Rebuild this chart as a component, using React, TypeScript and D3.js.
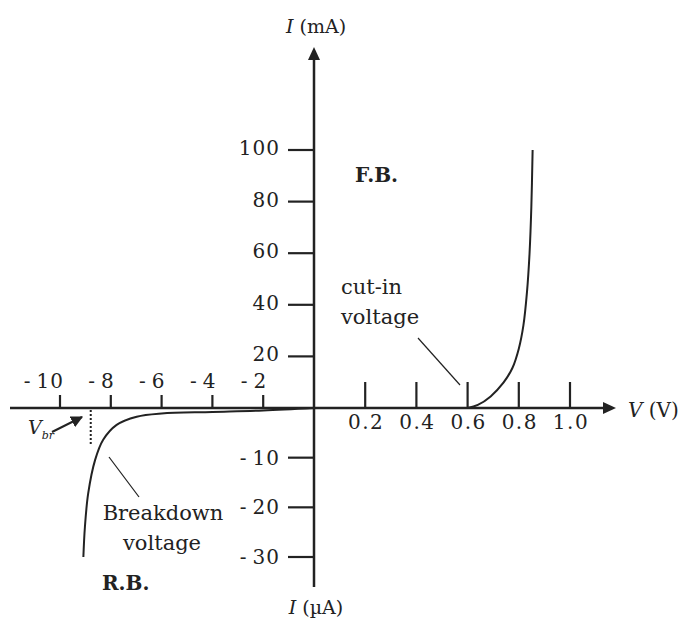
import React from "react";
import * as d3 from "d3";

// Forward bias (V in volts, I in mA)
const fwdV = [0.6, 0.64, 0.69, 0.74, 0.775, 0.8, 0.818, 0.832, 0.842, 0.849, 0.854];
const fwdI = [0, 1.2, 4.5, 9.8, 15.5, 23, 32, 45, 60, 78, 100];
// Reverse bias (V in volts, I in µA)
const revV = [-9.08, -9.02, -8.89, -8.62, -8.3, -7.77, -6.98, -6.0, -4.0, -2.0, 0];
const revI = [-30, -24, -17.2, -10.5, -6.4, -3.4, -1.75, -1.1, -0.8, -0.5, 0];

const posVTicks = [0.2, 0.4, 0.6, 0.8, 1.0];
const negVTicks = [-10, -8, -6, -4, -2];
const posITicks = [20, 40, 60, 80, 100];
const negITicks = [-10, -20, -30];
const breakdownV = -8.79;

const X0 = 314;
const Y0 = 408;
const INK = "#222";
const FONT = "'DejaVu Serif', 'Liberation Serif', serif";

export default function App() {
  const xPos = d3.scaleLinear().domain([0, 1]).range([X0, X0 + 256]);
  const xNeg = d3.scaleLinear().domain([0, -10]).range([X0, X0 - 254]);
  const yPos = d3.scaleLinear().domain([0, 100]).range([Y0, Y0 - 258]);
  const yNeg = d3.scaleLinear().domain([0, -30]).range([Y0, Y0 + 149]);

  const fwdLine = d3
    .line<number>()
    .x((_, i) => xPos(fwdV[i]))
    .y((d) => yPos(d))
    .curve(d3.curveCatmullRom.alpha(0.5));
  const revLine = d3
    .line<number>()
    .x((_, i) => xNeg(revV[i]))
    .y((d) => yNeg(d))
    .curve(d3.curveCatmullRom.alpha(0.5));

  const fmtNeg = (v: number) => "-\u2009" + Math.abs(v);

  return (
    <svg width={687} height={619} style={{ position: "absolute", left: 0, top: 0, background: "#fff" }} fontFamily={FONT}>
      <defs>
        <marker id="ah2" viewBox="0 0 10 10" refX="9" refY="5" markerWidth="12" markerHeight="12" orient="auto" markerUnits="userSpaceOnUse">
          <path d="M0,0 L10,5 L0,10 z" fill={INK} />
        </marker>
      </defs>
      <rect width={687} height={619} fill="#fff" />

      {/* axes */}
      <line x1={10} y1={Y0} x2={603} y2={Y0} stroke={INK} strokeWidth={2.5} />
      <path d={`M603,${Y0 - 6} L616,${Y0} L603,${Y0 + 6} z`} fill={INK} />
      <line x1={X0} y1={587} x2={X0} y2={60} stroke={INK} strokeWidth={2.5} />
      <path d={`M${X0 - 6},60 L${X0},47 L${X0 + 6},60 z`} fill={INK} />

      {/* positive V ticks */}
      {posVTicks.map((v) => (
        <g key={"pv" + v}>
          <line x1={xPos(v)} x2={xPos(v)} y1={Y0} y2={Y0 - 26} stroke={INK} strokeWidth={2.2} />
          <text x={xPos(v) + 1} y={Y0 + 14} dy="0.35em" textAnchor="middle" fontSize={20} fill={INK} letterSpacing={1.5}>
            {v.toFixed(1)}
          </text>
        </g>
      ))}
      {/* negative V ticks */}
      {negVTicks.map((v) => (
        <g key={"nv" + v}>
          <line x1={xNeg(v)} x2={xNeg(v)} y1={Y0} y2={Y0 - 13} stroke={INK} strokeWidth={2.2} />
          <text x={xNeg(v) + 4} y={Y0 - 27} dy="0.35em" textAnchor="end" fontSize={20} fill={INK} letterSpacing={1}>
            {fmtNeg(v)}
          </text>
        </g>
      ))}
      {/* positive I ticks */}
      {posITicks.map((v) => (
        <g key={"pi" + v}>
          <line x1={X0 - 26} x2={X0} y1={yPos(v)} y2={yPos(v)} stroke={INK} strokeWidth={2.2} />
          <text x={X0 - 34} y={yPos(v) - 2} dy="0.35em" textAnchor="end" fontSize={20} fill={INK} letterSpacing={1}>
            {v}
          </text>
        </g>
      ))}
      {/* negative I ticks */}
      {negITicks.map((v) => (
        <g key={"ni" + v}>
          <line x1={X0 - 26} x2={X0} y1={yNeg(v)} y2={yNeg(v)} stroke={INK} strokeWidth={2.2} />
          <text x={X0 - 34} y={yNeg(v)} dy="0.35em" textAnchor="end" fontSize={20} fill={INK} letterSpacing={1}>
            {fmtNeg(v)}
          </text>
        </g>
      ))}

      {/* curves */}
      <path d={fwdLine(fwdI) || ""} fill="none" stroke={INK} strokeWidth={2} />
      <path d={revLine(revI) || ""} fill="none" stroke={INK} strokeWidth={2} />

      {/* breakdown dotted line */}
      <line x1={xNeg(breakdownV)} x2={xNeg(breakdownV)} y1={Y0 + 2} y2={Y0 + 37} stroke={INK} strokeWidth={2} strokeDasharray="2,2" />

      {/* axis labels */}
      <text x={316} y={26} dy="0.35em" textAnchor="middle" fontSize={19} fill={INK}>
        <tspan fontStyle="italic">I</tspan> (mA)
      </text>
      <text x={316} y={607} dy="0.35em" textAnchor="middle" fontSize={19} fill={INK}>
        <tspan fontStyle="italic">I</tspan> (µA)
      </text>
      <text x={628} y={410} dy="0.35em" textAnchor="start" fontSize={20} fill={INK}>
        <tspan fontStyle="italic">V</tspan> (V)
      </text>

      {/* annotations */}
      <text x={355} y={175} dy="0.35em" fontSize={20} fontWeight="bold" fill={INK}>F.B.</text>
      <text x={102} y={583} dy="0.35em" fontSize={20} fontWeight="bold" fill={INK}>R.B.</text>
      <text x={341} y={287} dy="0.35em" fontSize={21} fill={INK}>cut-in</text>
      <text x={341} y={317} dy="0.35em" fontSize={21} fill={INK}>voltage</text>
      <line x1={418} y1={338} x2={460} y2={385} stroke={INK} strokeWidth={1.2} />
      <text x={163} y={513} dy="0.35em" textAnchor="middle" fontSize={21} fill={INK}>Breakdown</text>
      <text x={162} y={543} dy="0.35em" textAnchor="middle" fontSize={21} fill={INK}>voltage</text>
      <line x1={109} y1={457} x2={139} y2={497} stroke={INK} strokeWidth={1.2} />

      {/* V_br label and arrow */}
      <text x={28} y={434} fontSize={19} fontStyle="italic" fill={INK}>
        V<tspan fontSize={11} dy={5}>br</tspan>
      </text>
      <line x1={52} y1={432} x2={82} y2={417} stroke={INK} strokeWidth={2} markerEnd="url(#ah2)" />
    </svg>
  );
}
